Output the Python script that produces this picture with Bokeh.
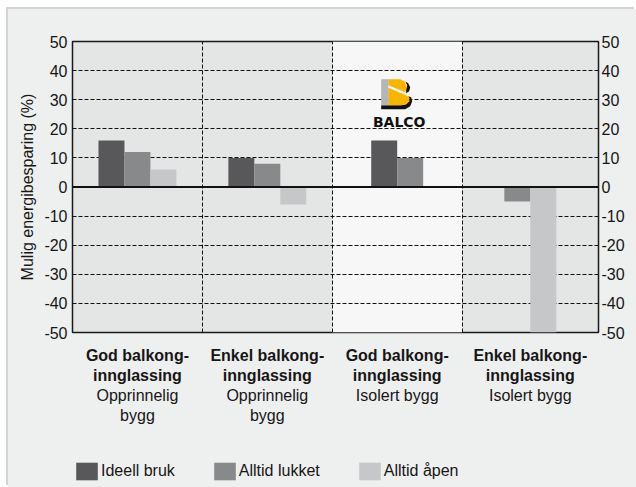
from bokeh.plotting import figure
from bokeh.layouts import column, row
from bokeh.models import (Range1d, LinearAxis, FixedTicker, Legend, LegendItem, Span, Spacer)
from bokeh.core.properties import value
from bokeh.embed import file_html
from bokeh.resources import INLINE

# ---------------- data ----------------
group_titles = ["God balkong-\ninnglassing", "Enkel balkong-\ninnglassing",
                "God balkong-\ninnglassing", "Enkel balkong-\ninnglassing"]
group_subtitles = ["Opprinnelig\nbygg", "Opprinnelig\nbygg", "Isolert bygg", "Isolert bygg"]
series_names = ["Ideell bruk", "Alltid lukket", "Alltid åpen"]
ideell_bruk = [16, 10, 16, None]
alltid_lukket = [12, 8, 10, -5]
alltid_apen = [6, -6, None, -50]
y_ticks = [-50, -40, -30, -20, -10, 0, 10, 20, 30, 40, 50]
highlight_group = 2
y_label = "Mulig energibesparing (%)"
logo_text = "BALCO"

# ---------------- style ----------------
colors = ["#58585a", "#88898b", "#c6c7c9"]
FONT = "Liberation Sans"
BAR_W = 0.2
X_END = 4.05
TXT = "#161616"
BG = "#eeefef"
SHADOW = "#d4d4d4"

series_values = [ideell_bruk, alltid_lukket, alltid_apen]
n_groups = len(group_titles)
bounds = list(range(n_groups)) + [X_END]
centers = [(bounds[g] + bounds[g + 1]) / 2 for g in range(n_groups)]

xs_per_series = [[] for _ in series_values]
tops_per_series = [[] for _ in series_values]
for g in range(n_groups):
    present = [k for k, vals in enumerate(series_values) if vals[g] is not None]
    n = len(present)
    for j, k in enumerate(present):
        xs_per_series[k].append(centers[g] + (j - (n - 1) / 2) * BAR_W)
        tops_per_series[k].append(series_values[k][g])

p = figure(width=628, height=428, output_backend="svg", toolbar_location=None,
           x_range=Range1d(0, X_END), y_range=Range1d(y_ticks[0], y_ticks[-1]),
           min_border_left=64, min_border_right=38, min_border_top=32,
           min_border_bottom=105,
           background_fill_color="#e4e5e5", border_fill_color=BG,
           outline_line_color="#1a1a1a", outline_line_width=1.5)

# highlighted column background
p.quad(left=[bounds[highlight_group]], right=[bounds[highlight_group + 1]],
       bottom=[y_ticks[0]], top=[y_ticks[-1]],
       fill_color="#f7f7f7", line_color=None, level="image")

# grid
p.xgrid.ticker = FixedTicker(ticks=bounds[1:-1])
p.ygrid.ticker = FixedTicker(ticks=[t for t in y_ticks if t not in (0, y_ticks[0], y_ticks[-1])])
for gr in (p.xgrid, p.ygrid):
    gr.grid_line_color = "#111111"
    gr.grid_line_dash = "4 2"
    gr.grid_line_width = 1

# bars
for k in range(len(series_values)):
    p.vbar(x=xs_per_series[k], top=tops_per_series[k], bottom=0, width=BAR_W,
           fill_color=colors[k], line_color=None)

p.add_layout(Span(location=0, dimension="width", line_color="#111111", line_width=2))

# logo (decorative)
PX_X = 526 / X_END
PX_Y = 291 / 100.0
lx0 = centers[highlight_group] - 16 / PX_X
ly0 = 37.0
def tx(pts):
    return [lx0 + a / PX_X for a, b in pts], [ly0 - b / PX_Y for a, b in pts]
shapes = [
    ([(0, 26), (20, 26), (25, 25), (28, 22), (28, 19), (27, 17), (30, 18), (31, 22),
      (29, 27), (24, 30), (0, 30)], "#111111"),
    ([(22, 1), (27, 4), (29, 8), (28, 12), (25, 14), (25, 10), (26, 6), (24, 2)], "#111111"),
    ([(0, 0), (7, 0), (7, 26), (0, 26)], "#b4b5b7"),
    ([(7, 0), (19, 0), (23, 2), (25, 6), (25, 10), (24, 13), (7, 6)], "#f7b500"),
    ([(7, 8.5), (26, 16.5), (28, 19), (28, 22), (25, 25), (20, 26), (7, 26)], "#f7b500"),
]
lxs, lys, lcs = [], [], []
for pts, c in shapes:
    a, b = tx(pts)
    lxs.append(a); lys.append(b); lcs.append(c)
p.patches(xs=lxs, ys=lys, fill_color=lcs, line_color=None)
p.text(x=[lx0 + 18 / PX_X], y=[ly0 - 42.5 / PX_Y], text=[logo_text],
       text_font=value("DejaVu Sans"), text_font_style="bold", text_font_size="14px",
       text_align="center", text_baseline="middle", text_color="#111111")

# y axes
def style_y(ax):
    ax.ticker = FixedTicker(ticks=y_ticks)
    ax.major_label_overrides = {t: str(t) for t in y_ticks}
    ax.axis_line_color = None
    ax.major_tick_line_color = None
    ax.minor_tick_line_color = None
    ax.major_tick_out = 0
    ax.major_tick_in = 0
    ax.minor_tick_out = 0
    ax.major_label_text_font = FONT
    ax.major_label_text_font_size = "16px"
    ax.major_label_text_color = TXT

style_y(p.yaxis[0])
p.yaxis[0].major_label_standoff = 5
p.yaxis[0].axis_label = y_label
p.yaxis[0].axis_label_text_font = FONT
p.yaxis[0].axis_label_text_font_size = "16px"
p.yaxis[0].axis_label_text_font_style = "normal"
p.yaxis[0].axis_label_text_color = TXT
p.yaxis[0].axis_label_standoff = 5

ry = LinearAxis()
style_y(ry)
ry.major_label_standoff = 3
p.add_layout(ry, "right")

# x axes (two stacked label rows)
def style_x(ax, labels, bold, standoff):
    ax.ticker = FixedTicker(ticks=centers)
    ax.major_label_overrides = {c: l for c, l in zip(centers, labels)}
    ax.axis_line_color = None
    ax.major_tick_line_color = None
    ax.minor_tick_line_color = None
    ax.major_tick_out = 0
    ax.major_tick_in = 0
    ax.minor_tick_out = 0
    ax.major_label_standoff = standoff
    ax.major_label_text_font = FONT
    ax.major_label_text_font_size = "16px"
    ax.major_label_text_font_style = "bold" if bold else "normal"
    ax.major_label_text_color = TXT
    ax.major_label_text_line_height = 1.2

style_x(p.xaxis[0], group_titles, True, 14)
ax2 = LinearAxis()
style_x(ax2, group_subtitles, False, 0)
p.add_layout(ax2, "below")

# legend strip (same grey panel, continues below the chart; frame aligned with the chart)
pl = figure(width=628, height=50, output_backend="svg", toolbar_location=None,
            x_range=Range1d(0, 1), y_range=Range1d(0, 1),
            min_border=0, background_fill_color=BG, border_fill_color=BG,
            outline_line_color=None)
pl.axis.visible = False
pl.grid.visible = False
keys = [pl.vbar(x=[0], top=[0], bottom=[0], width=0, fill_color=c, line_color=None)
        for c in colors]
legend = Legend(items=[LegendItem(label=s, renderers=[r]) for s, r in zip(series_names, keys)],
                orientation="horizontal", location=(1, 5), margin=0, padding=0,
                spacing=36, glyph_width=27, glyph_height=22, label_standoff=1,
                label_text_font=FONT, label_text_font_size="16px", label_text_color=TXT,
                border_line_color=None, background_fill_alpha=0)
pl.add_layout(legend)

panel = column(p, pl, spacing=0,
               styles={"background-color": BG, "box-shadow": f"-2px -2px 0 0 {SHADOW}"})
layout = column(Spacer(height=9), row(Spacer(width=8), panel))
open("out.html", "w").write(file_html(layout, INLINE))
